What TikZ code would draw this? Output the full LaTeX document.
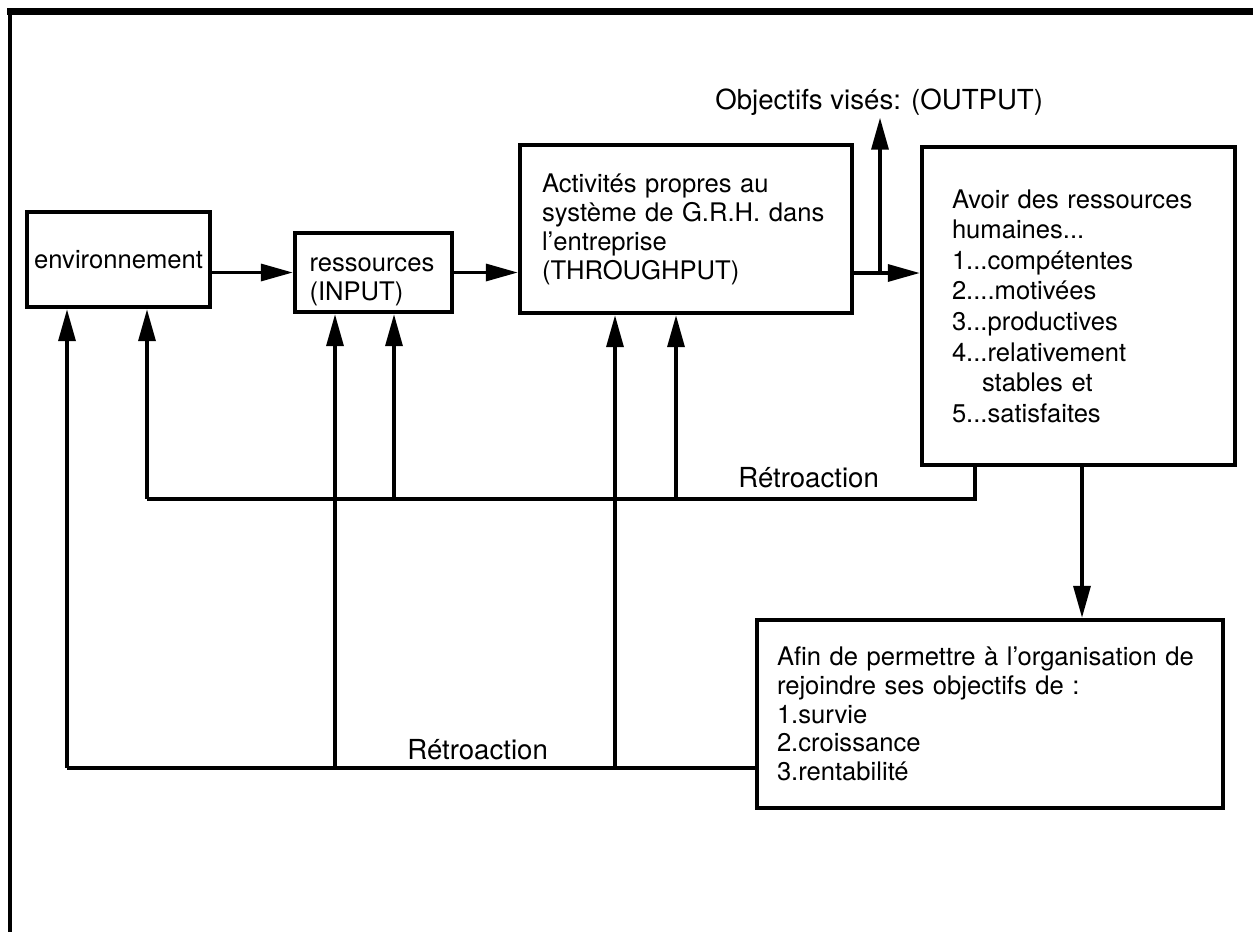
\documentclass[tikz,border=0pt]{standalone}
\usepackage{fontspec}
\setmainfont{TeX Gyre Heros}
\usetikzlibrary{arrows.meta}

\begin{document}
\begin{tikzpicture}[x=0.5pt, y=-0.5pt, every node/.style={font=\fontsize{12.8}{14.5}\selectfont}, box/.style={draw,line width=2.2pt,align=left,inner ysep=0pt}, lbl/.style={font=\fontsize{13.8}{15}\selectfont,inner sep=1pt}, conn/.style={line width=1.7pt}, arr/.style={-{Triangle[length=16pt,width=8.5pt]},line width=1.7pt}]
\useasboundingbox (0,0) rectangle (1253,932);
% cadre
\draw[line width=3.5pt] (7,11.5) -- (1253,11.5);
\draw[line width=2pt] (10,11.5) -- (10,932);
% boites
\node[box,minimum width=91.5pt,minimum height=47.5pt,align=center] (env) at (118.5,259.5) {environnement};
\node[box,text width=64pt,inner xsep=7.25pt,minimum height=39.5pt] (res) at (373.5,272.5) {\rule{0pt}{16.5pt}ressources\\(INPUT)};
\node[box,text width=144pt,inner xsep=11pt,minimum height=84pt] (act) at (686,229) {Activités propres au\\système de G.R.H. dans\\l'entreprise\\(THROUGHPUT)};
\node[box,text width=126.5pt,inner xsep=15pt,minimum height=159pt,font=\fontsize{12.8}{15.3}\selectfont] (avoir) at (1078.5,306) {Avoir des ressources\\humaines...\\1...compétentes\\2....motivées\\3...productives\\4...relativement\\\hspace*{15pt}stables et\\5...satisfaites};
\node[box,text width=213pt,inner xsep=10pt,minimum height=94pt,font=\fontsize{12.8}{14.4}\selectfont] (afin) at (990,714) {Afin de permettre à l'organisation de\\rejoindre ses objectifs de :\\1.survie\\2.croissance\\3.rentabilité};
\node[lbl,anchor=west] (out) at (713,102) {Objectifs visés: (OUTPUT)};
\node[lbl,anchor=west] (retro1) at (736,478) {Rétroaction};
\node[lbl,anchor=west] (retro2) at (405,750) {Rétroaction};
\coordinate (split) at (880,273);
\coordinate (fb1) at (0,499);
\coordinate (fb2) at (0,768);
% flux principal
\draw[arr] (env.east |- res) -- (res.west);
\draw[arr] (res.east) -- (res.east -| act.west);
\draw[conn] (act.east |- split) -- (split);
\draw[arr] (split) -- (split -| avoir.west);
\draw[arr] (split) -- (split |- out.south);
\draw[arr] (1082,0 |- avoir.south) -- (1082,0 |- afin.north);
% retroaction haute
\draw[conn] (975,0 |- avoir.south) |- (147,0 |- fb1);
\draw[arr] (147,0 |- fb1) -- (147,0 |- env.south);
\draw[arr] (394,0 |- fb1) -- (394,0 |- res.south);
\draw[arr] (676,0 |- fb1) -- (676,0 |- act.south);
% retroaction basse
\draw[conn] (afin.west |- fb2) -- (67,0 |- fb2);
\draw[arr] (67,0 |- fb2) -- (67,0 |- env.south);
\draw[arr] (335,0 |- fb2) -- (335,0 |- res.south);
\draw[arr] (615,0 |- fb2) -- (615,0 |- act.south);
\end{tikzpicture}
\end{document}
